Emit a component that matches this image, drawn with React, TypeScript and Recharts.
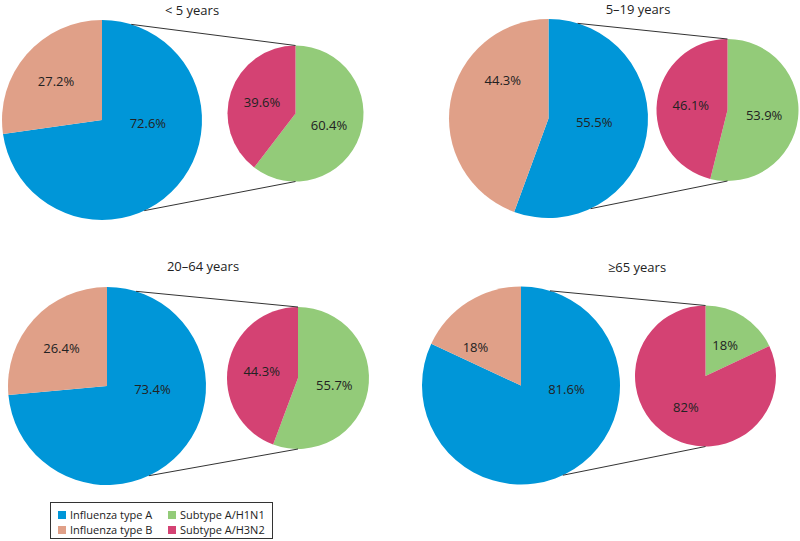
import React from "react";
import { PieChart, Pie, Cell } from "recharts";

// values (per cent)
const ageGroups = ["< 5 years", "5–19 years", "20–64 years", "≥65 years"];
const typeA = [72.6, 55.5, 73.4, 81.6];
const typeB = [27.2, 44.3, 26.4, 18];
const subtypeH1N1 = [60.4, 53.9, 55.7, 18];
const subtypeH3N2 = [39.6, 46.1, 44.3, 82];

const typeNames = ["Influenza type A", "Influenza type B"];
const subtypeNames = ["Subtype A/H1N1", "Subtype A/H3N2"];

const COLORS = {
  a: "#0096d8",
  b: "#e0a088",
  h1n1: "#93cb79",
  h3n2: "#d44273",
};
const FONT = "'Open Sans', sans-serif";
const TEXT = "#222";
const RADIAN = Math.PI / 180;

// layout of the four panels (pixels)
const panels = [
  { tx: 192, ty: 10, big: { cx: 102, cy: 120, r: 100 }, small: { cx: 295.5, cy: 113.5, r: 68 } },
  { tx: 638, ty: 9, big: { cx: 548.5, cy: 118.5, r: 99.5 }, small: { cx: 727.5, cy: 110, r: 71 } },
  { tx: 203, ty: 266, big: { cx: 107, cy: 386, r: 99 }, small: { cx: 298, cy: 378, r: 71 } },
  { tx: 637, ty: 267, big: { cx: 521, cy: 385.5, r: 99 }, small: { cx: 705.5, cy: 376, r: 70.5 } },
];

// point on a circle, angle measured clockwise from 12 o'clock
const onCircle = (c: { cx: number; cy: number; r: number }, deg: number) => ({
  x: c.cx + c.r * Math.sin(deg * RADIAN),
  y: c.cy - c.r * Math.cos(deg * RADIAN),
});

const pct = (v: number) => `${v}%`;

// big pie labels sit at fixed directions (clockwise from top), like the original
const bigLabel = (props: any) => {
  const { cx, cy, outerRadius, index, value } = props;
  const deg = index === 0 ? 94 : 310;
  const k = index === 0 ? 0.46 : 0.6;
  const x = cx + outerRadius * k * Math.sin(deg * RADIAN);
  const y = cy - outerRadius * k * Math.cos(deg * RADIAN);
  return (
    <text x={x} y={y} fill={TEXT} fontSize={13} fontFamily={FONT} textAnchor="middle" dominantBaseline="central">
      {pct(value)}
    </text>
  );
};

const smallLabel = (props: any) => {
  const { cx, cy, midAngle, outerRadius, value } = props;
  const rr = outerRadius * 0.52;
  const x = cx + rr * Math.cos(-midAngle * RADIAN);
  const y = cy + rr * Math.sin(-midAngle * RADIAN);
  return (
    <text x={x} y={y} fill={TEXT} fontSize={13} fontFamily={FONT} textAnchor="middle" dominantBaseline="central">
      {pct(value)}
    </text>
  );
};

function LegendBox() {
  const items = [
    { name: typeNames[0], color: COLORS.a, left: 7, top: 6 },
    { name: typeNames[1], color: COLORS.b, left: 7, top: 21 },
    { name: subtypeNames[0], color: COLORS.h1n1, left: 117, top: 6 },
    { name: subtypeNames[1], color: COLORS.h3n2, left: 117, top: 21 },
  ];
  return (
    <div
      style={{
        position: "absolute",
        left: 50,
        top: 502,
        width: 221,
        height: 35,
        border: "1px solid #333",
        fontFamily: FONT,
        fontSize: 11,
        color: TEXT,
      }}
    >
      {items.map((it) => (
        <div
          key={it.name}
          style={{ position: "absolute", left: it.left, top: it.top, display: "flex", alignItems: "center", whiteSpace: "nowrap" }}
        >
          <span style={{ display: "inline-block", width: 8, height: 8, background: it.color, marginRight: 4 }} />
          <span style={{ lineHeight: "12px" }}>{it.name}</span>
        </div>
      ))}
    </div>
  );
}

export default function App() {
  return (
    <div style={{ position: "absolute", left: 0, top: 0, width: 800, height: 541, background: "#fff", overflow: "hidden" }}>
      <PieChart width={800} height={541} margin={{ top: 0, right: 0, bottom: 0, left: 0 }}>
        {panels.map((p, i) => (
          <Pie
            key={`big-${i}`}
            data={[
              { name: typeNames[0], value: typeA[i] },
              { name: typeNames[1], value: typeB[i] },
            ]}
            dataKey="value"
            cx={p.big.cx}
            cy={p.big.cy}
            outerRadius={p.big.r}
            startAngle={90}
            endAngle={-270}
            stroke="none"
            label={bigLabel}
            labelLine={false}
            isAnimationActive={false}
          >
            <Cell fill={COLORS.a} />
            <Cell fill={COLORS.b} />
          </Pie>
        ))}
        {panels.map((p, i) => (
          <Pie
            key={`small-${i}`}
            data={[
              { name: subtypeNames[0], value: subtypeH1N1[i] },
              { name: subtypeNames[1], value: subtypeH3N2[i] },
            ]}
            dataKey="value"
            cx={p.small.cx}
            cy={p.small.cy}
            outerRadius={p.small.r}
            startAngle={90}
            endAngle={-270}
            stroke="none"
            label={smallLabel}
            labelLine={false}
            isAnimationActive={false}
          >
            <Cell fill={COLORS.h1n1} />
            <Cell fill={COLORS.h3n2} />
          </Pie>
        ))}
      </PieChart>

      {/* titles and connector lines */}
      <svg width={800} height={541} style={{ position: "absolute", left: 0, top: 0, pointerEvents: "none" }}>
        {panels.map((p, i) => {
          const t1 = onCircle(p.big, 17);
          const t2 = onCircle(p.small, 0);
          const b1 = onCircle(p.big, 155);
          const b2 = onCircle(p.small, 180);
          return (
            <g key={i}>
              <text x={p.tx} y={p.ty} fill={TEXT} fontSize={13} fontFamily={FONT} textAnchor="middle" dominantBaseline="central">
                {ageGroups[i]}
              </text>
              <line x1={t1.x} y1={t1.y} x2={t2.x} y2={t2.y} stroke="#333" strokeWidth={1} />
              <line x1={b1.x} y1={b1.y} x2={b2.x} y2={b2.y} stroke="#333" strokeWidth={1} />
            </g>
          );
        })}
      </svg>

      <LegendBox />
    </div>
  );
}
